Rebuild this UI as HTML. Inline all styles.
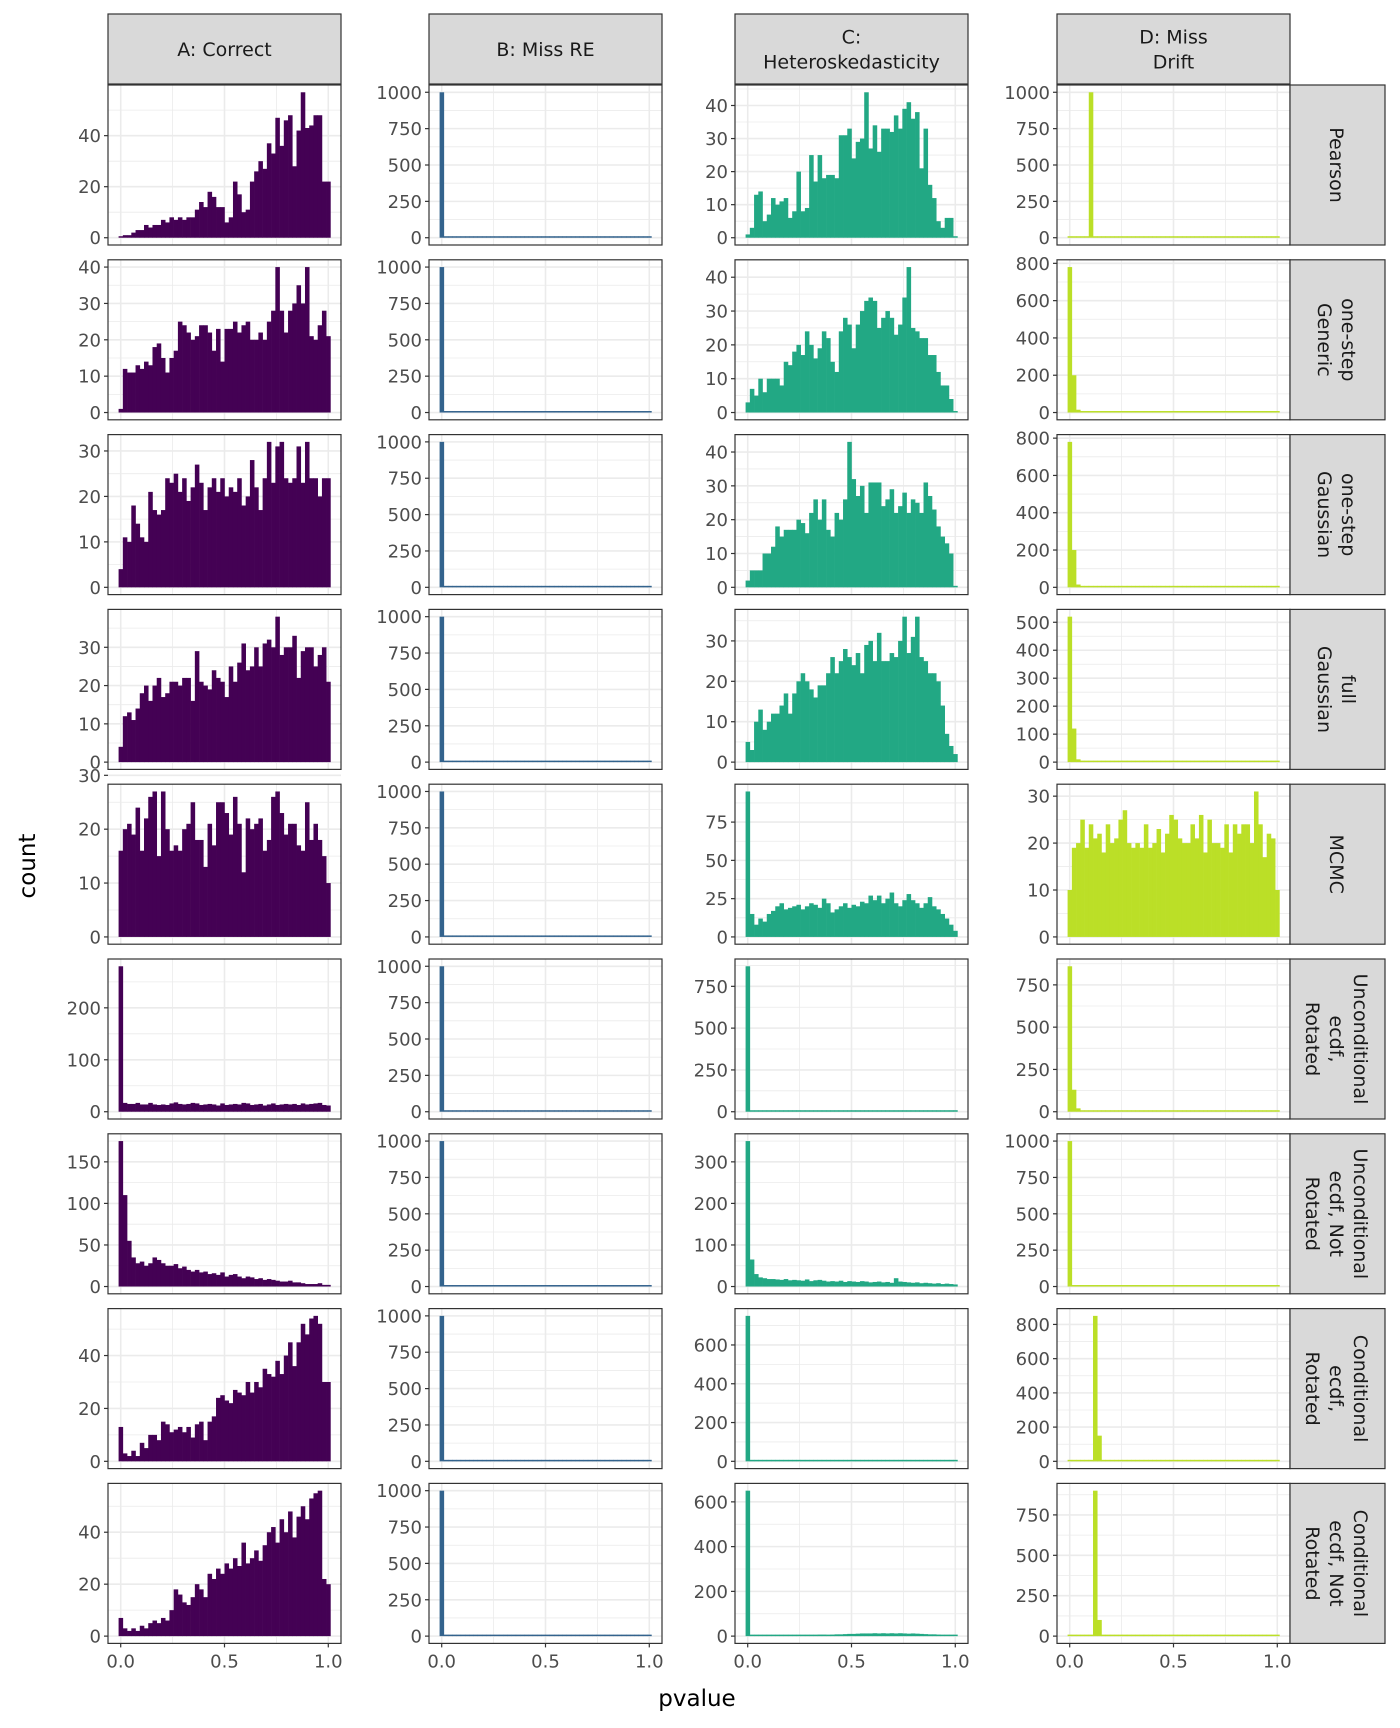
<!DOCTYPE html>
<html><head><meta charset="utf-8"><style>
html,body{margin:0;padding:0;background:#fff}
svg{display:block;font-family:"DejaVu Sans","Liberation Sans",sans-serif}
</style></head><body>
<svg id="chart" width="1400" height="1728" viewBox="0 0 1400 1728" xmlns="http://www.w3.org/2000/svg">
<text x="697" y="1706" font-size="23" text-anchor="middle" fill="#000">pvalue</text>
<text x="0" y="0" font-size="23" text-anchor="middle" fill="#000" transform="translate(35,866) rotate(-90)">count</text>
</svg>
<script>
const columns = ["A: Correct","B: Miss RE","C:\nHeteroskedasticity","D: Miss\nDrift"];
const rows = ["Pearson","one-step\nGeneric","one-step\nGaussian","full\nGaussian","MCMC","Unconditional\necdf,\nRotated","Unconditional\necdf, Not\nRotated","Conditional\necdf,\nRotated","Conditional\necdf, Not\nRotated"];
const colors = ["#440154","#33638D","#22A884","#BBDF27"];
const xTicks = [0,0.5,1];
const xTickLabels = ["0.0","0.5","1.0"];
const binCount = 50;
const bMiss = [1000].concat(Array(49).fill(2));
function spike(i,v,j,w){const a=Array(50).fill(0);a[i]=v;if(j!==undefined)a[j]=w;return a;}
const seriesA = [
[0,1,1,2,3,3,5,4,5,5,7,6,8,7,8,7,8,8,11,14,12,18,16,12,12,6,8,22,17,10,11,22,26,30,27,37,33,47,36,46,48,28,42,57,43,44,48,48,22,22],
[1,12,11,11,13,12,14,13,18,19,15,11,15,17,25,24,22,20,21,24,24,22,17,23,14,23,23,25,22,24,25,20,20,22,20,25,28,40,28,22,28,30,35,30,40,21,20,24,28,21],
[4,11,10,18,14,11,10,21,17,16,17,24,23,25,21,24,19,22,27,23,17,22,24,21,24,20,22,21,24,18,20,28,22,17,24,32,23,31,32,24,23,24,31,23,32,24,24,20,24,24],
[4,12,13,11,14,18,20,16,20,22,17,18,21,21,20,22,22,16,29,21,20,19,24,22,21,17,25,21,26,31,24,25,30,25,31,32,30,38,28,30,30,33,22,29,30,30,25,28,30,21],
[16,20,21,19,24,16,22,26,27,15,27,20,16,17,16,20,21,25,18,18,13,21,17,25,25,23,19,26,21,12,22,20,21,22,16,18,26,27,23,19,21,21,17,16,25,18,21,18,15,10],
[280,17,15,15,17,14,14,17,14,13,14,13,16,18,15,14,15,17,16,13,14,15,14,12,16,13,14,15,14,17,16,13,14,15,12,14,16,13,14,15,14,15,13,16,14,15,16,17,13,12],
[175,110,55,35,28,30,25,28,35,32,28,25,25,27,22,24,20,18,20,17,18,15,16,14,17,12,14,15,12,10,12,11,9,10,8,9,8,7,6,6,7,5,5,4,3,3,3,4,2,2],
[13,3,2,4,2,7,5,10,10,8,15,14,11,12,13,11,13,9,14,15,8,15,17,24,25,23,22,27,26,25,30,26,30,28,35,33,32,38,33,40,45,36,45,52,48,54,55,52,30,30],
[7,3,2,3,2,4,3,5,6,5,7,6,10,18,16,13,12,15,20,18,15,24,22,26,24,28,26,30,27,36,28,30,33,29,35,40,42,36,45,40,48,38,46,50,45,53,55,56,22,20]
];
const seriesB = [bMiss,bMiss,bMiss,bMiss,bMiss,bMiss,bMiss,bMiss,bMiss];
const seriesC = [
[1,3,13,14,5,7,12,10,11,12,6,8,20,8,9,25,17,25,18,19,19,18,31,31,33,24,29,30,44,27,34,26,33,33,32,37,33,39,41,36,38,21,33,16,12,5,3,6,6,0],
[3,7,5,10,6,10,10,10,8,15,14,18,20,17,24,20,16,19,24,22,15,12,24,28,26,19,26,30,33,34,33,25,28,30,28,23,26,34,43,25,24,22,22,17,17,12,8,8,4,0],
[2,5,5,5,10,10,12,18,15,17,17,17,20,19,16,22,26,20,26,17,15,22,20,26,43,32,27,30,22,31,31,31,24,26,29,22,24,28,22,26,25,22,31,27,23,18,15,13,10,0],
[5,3,10,13,8,10,12,12,14,17,12,17,20,22,20,18,16,19,19,22,26,22,25,28,26,24,27,22,29,30,25,32,25,25,27,26,30,36,27,31,36,26,25,22,22,20,14,7,4,2],
[95,15,8,12,10,15,17,20,22,18,19,20,21,18,20,22,21,19,25,22,16,18,20,22,19,21,20,23,22,27,24,27,22,25,29,22,20,24,28,24,22,19,22,26,20,18,15,12,8,4],
[870,6,4,5,5,4,6,5,4,5,5,4,6,5,5,4,5,6,4,5,5,6,4,5,5,4,5,6,5,4,5,5,6,4,5,5,4,6,5,5,4,5,6,5,4,5,5,4,4,3],
[350,65,30,22,20,18,18,17,16,18,15,16,15,14,17,13,15,16,14,12,13,12,14,11,13,12,11,13,12,10,11,12,10,11,9,20,12,11,10,9,10,8,9,8,7,8,6,7,6,5],
[750,6,5,5,5,6,5,5,6,5,5,6,5,5,6,5,6,5,5,6,5,6,6,5,6,6,5,6,7,6,6,7,6,6,7,7,6,7,6,6,7,6,6,5,5,5,5,4,4,3],
[650,3,3,4,3,4,4,5,5,5,6,5,6,6,5,6,6,7,7,6,7,8,8,9,10,10,11,12,12,12,13,12,13,12,13,12,13,12,11,12,11,10,9,8,8,7,6,5,5,4]
];
const seriesD = [
spike(5,1000),
[780,200,15,5,2,1,0,0,0,0,0,0,0,0,0,0,0,0,0,0,0,0,0,0,0,0,0,0,0,0,0,0,0,0,0,0,0,0,0,0,0,0,0,0,0,0,0,0,0,0],
[780,200,15,5,2,1,0,0,0,0,0,0,0,0,0,0,0,0,0,0,0,0,0,0,0,0,0,0,0,0,0,0,0,0,0,0,0,0,0,0,0,0,0,0,0,0,0,0,0,0],
[520,120,10,3,1,0,0,0,0,0,0,0,0,0,0,0,0,0,0,0,0,0,0,0,0,0,0,0,0,0,0,0,0,0,0,0,0,0,0,0,0,0,0,0,0,0,0,0,0,0],
[10,19,20,25,19,24,21,22,18,24,20,21,25,27,20,19,20,19,24,19,20,23,18,22,26,25,21,20,20,24,21,26,18,25,20,20,19,24,18,24,22,24,24,20,31,24,17,22,21,10],
[860,130,20,5,2,0,0,0,0,0,0,0,0,0,0,0,0,0,0,0,0,0,0,0,0,0,0,0,0,0,0,0,0,0,0,0,0,0,0,0,0,0,0,0,0,0,0,0,0,0],
spike(0,1000),
spike(6,850,7,150),
spike(6,900,7,100)
];
const ticksA = [[0,20,40],[0,10,20,30,40],[0,10,20,30],[0,10,20,30],[0,10,20,30],[0,100,200],[0,50,100,150],[0,20,40],[0,20,40]];
const ticksB = [[0,250,500,750,1000],[0,250,500,750,1000],[0,250,500,750,1000],[0,250,500,750,1000],[0,250,500,750,1000],[0,250,500,750,1000],[0,250,500,750,1000],[0,250,500,750,1000],[0,250,500,750,1000]];
const ticksC = [[0,10,20,30,40],[0,10,20,30,40],[0,10,20,30,40],[0,10,20,30],[0,25,50,75],[0,250,500,750],[0,100,200,300],[0,200,400,600],[0,200,400,600]];
const ticksD = [[0,250,500,750,1000],[0,200,400,600,800],[0,200,400,600,800],[0,100,200,300,400,500],[0,10,20,30],[0,250,500,750],[0,250,500,750,1000],[0,200,400,600,800],[0,250,500,750]];
const allSeries=[seriesA,seriesB,seriesC,seriesD];
const allTicks=[ticksA,ticksB,ticksC,ticksD];

const NS="http://www.w3.org/2000/svg";
const svg=document.getElementById('chart');
function mk(tag,attrs,parent){const e=document.createElementNS(NS,tag);for(const k in attrs)e.setAttribute(k,attrs[k]);(parent||svg).appendChild(e);return e;}
const colX=[108,429,735,1057], PW=233, PH=160, rowTop0=85, rowPitch=174.8;
const bw=1/(binCount-1);
const xMin=-bw/2-0.05*(1+bw), xMax=1+bw/2+0.05*(1+bw);

for(let c=0;c<4;c++){
  const x0=colX[c];
  const xs=v=>x0+(v-xMin)/(xMax-xMin)*PW;
  const st=mk('rect',{x:x0,y:14,width:PW,height:70,fill:'#d9d9d9',stroke:'#333','stroke-width':1.2});
  
  
  const lines=columns[c].split('\n');
  lines.forEach((ln,i)=>{const t=mk('text',{x:x0+PW/2,y:49+(i-(lines.length-1)/2)*25+7,'font-size':19,'text-anchor':'middle',fill:'#1a1a1a'});t.textContent=ln;
    
    });
  for(let r=0;r<9;r++){
    const y0=rowTop0+r*rowPitch;
    const vals=allSeries[c][r], ticks=allTicks[c][r];
    const mx=Math.max(...vals);
    const yMin=-0.05*mx, yMax=1.05*mx;
    const ys=v=>y0+PH-(v-yMin)/(yMax-yMin)*PH;
    const g=mk('g',{});
    
    
    mk('rect',{x:x0,y:y0,width:PW,height:PH,fill:'#fff'},g);
    for(let i=0;i<ticks.length;i++){const m=ticks[i]+(ticks[1]-ticks[0])/2; if(m<yMax) mk('line',{x1:x0,x2:x0+PW,y1:ys(m),y2:ys(m),stroke:'#ebebeb','stroke-width':0.8},g);}
    [0.25,0.75].forEach(m=>mk('line',{x1:xs(m),x2:xs(m),y1:y0,y2:y0+PH,stroke:'#ebebeb','stroke-width':0.8},g));
    ticks.forEach(t=>{mk('line',{x1:x0,x2:x0+PW,y1:ys(t),y2:ys(t),stroke:'#ebebeb','stroke-width':1.6},g);
      mk('line',{x1:x0-4,x2:x0,y1:ys(t),y2:ys(t),stroke:'#333','stroke-width':1.2},g);
      const tl=mk('text',{x:x0-7,y:ys(t)+6.5,'font-size':18,'text-anchor':'end',fill:'#4d4d4d'},g);tl.textContent=t;
      
      });
    xTicks.forEach(t=>mk('line',{x1:xs(t),x2:xs(t),y1:y0,y2:y0+PH,stroke:'#ebebeb','stroke-width':1.6},g));
    vals.forEach((v,i)=>{const cx=i*bw; const yt=ys(v), yb=ys(0);
      const b=mk('rect',{x:xs(cx-bw/2),y:Math.min(yt,yb-1.5),width:xs(cx+bw/2)-xs(cx-bw/2)+0.3,height:Math.max(yb-yt,1.5),fill:colors[c]},g);
      
      });
    mk('rect',{x:x0,y:y0,width:PW,height:PH,fill:'none',stroke:'#333','stroke-width':1.2},g);
    if(r===8){
      xTicks.forEach((t,i)=>{mk('line',{x1:xs(t),x2:xs(t),y1:y0+PH,y2:y0+PH+4,stroke:'#333','stroke-width':1.2},g);
        const xl=mk('text',{x:xs(t),y:y0+PH+24,'font-size':18,'text-anchor':'middle',fill:'#4d4d4d'},g);xl.textContent=xTickLabels[i];
        
        });
    }
    if(c===3){
      const rs=mk('rect',{x:1290,y:y0,width:95,height:PH,fill:'#d9d9d9',stroke:'#333','stroke-width':1.2});
      
      
      const rl=rows[r].split('\n'); const n=rl.length;
      rl.forEach((ln,i)=>{const tx=1337+((n-1)/2-i)*24-7;const t=mk('text',{'font-size':19,'text-anchor':'middle',fill:'#1a1a1a',transform:`translate(${tx},${y0+PH/2}) rotate(90)`});t.textContent=ln;
        
        });
    }
  }
}
</script>
</body></html>
